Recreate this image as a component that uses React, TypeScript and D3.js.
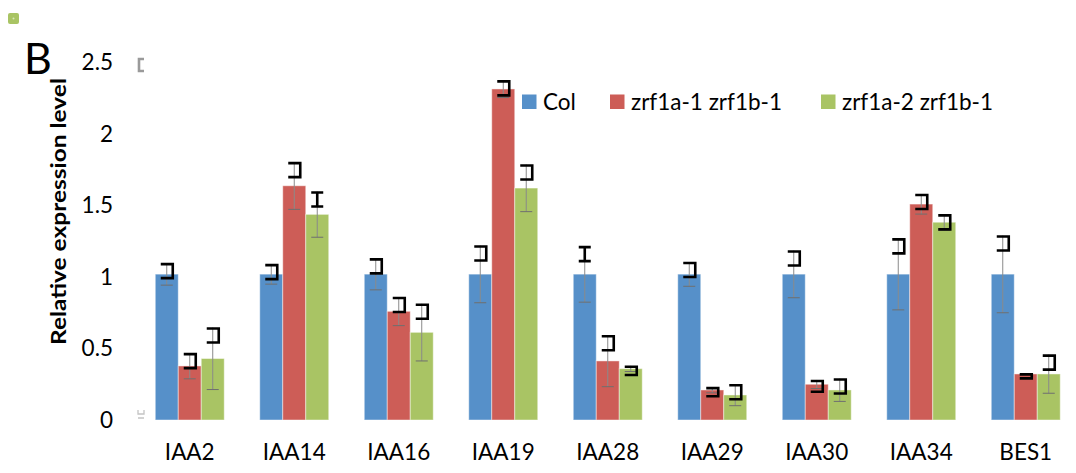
import React from "react";
import * as d3 from "d3";

const categories = ["IAA2", "IAA14", "IAA16", "IAA19", "IAA28", "IAA29", "IAA30", "IAA34", "BES1"];
const seriesNames = ["Col", "zrf1a-1 zrf1b-1", "zrf1a-2 zrf1b-1"];
const colValues = [1.02, 1.02, 1.02, 1.02, 1.02, 1.02, 1.02, 1.02, 1.02];
const colErrors = [0.077, 0.07, 0.11, 0.2, 0.196, 0.085, 0.165, 0.25, 0.27];
const mut1Values = [0.378, 1.638, 0.76, 2.315, 0.413, 0.21, 0.25, 1.51, 0.322];
const mut1Errors = [0.09, 0.165, 0.1, 0.06, 0.18, 0.02, 0.03, 0.07, 0.004];
const mut2Values = [0.43, 1.438, 0.613, 1.622, 0.359, 0.175, 0.21, 1.383, 0.322];
const mut2Errors = [0.217, 0.16, 0.2, 0.165, 0.02, 0.075, 0.08, 0.055, 0.135];
const yTicks = [0, 0.5, 1, 1.5, 2, 2.5];
const yTickLabels = ["0", "0.5", "1", "1.5", "2", "2.5"];
// caps drawn as "I" instead of the bracket shape: [series, category]
const iBeamCaps = ["2-1", "0-4"];

const colors = ["#5690C9", "#CD5D57", "#A9C464"];
const FONT = "Lato, 'Open Sans', sans-serif";

export default function App() {
  const W = 1076, H = 473;
  const x = d3.scaleBand<string>().domain(categories).range([137.5, 1078]).paddingInner(0.34).paddingOuter(0.17);
  const xs = d3.scaleBand<number>().domain([0, 1, 2]).range([0, x.bandwidth()]);
  const y = d3.scaleLinear().domain([0, 2.5]).range([420, 62.5]);

  const values = [colValues, mut1Values, mut2Values];
  const errors = [colErrors, mut1Errors, mut2Errors];

  const bars: React.ReactNode[] = [];
  const whiskers: React.ReactNode[] = [];
  values.forEach((vals, s) => {
    vals.forEach((v, c) => {
      const bx = (x(categories[c]) as number) + (xs(s) as number);
      const bw = xs.bandwidth();
      const top = y(v);
      bars.push(
        <rect key={`b${s}-${c}`} x={bx} y={top} width={bw} height={y(0) - top}
          fill={colors[s]} stroke="rgba(255,255,255,0.45)" strokeWidth={1} />
      );
      const e = errors[s][c];
      const cx = bx + bw / 2;
      const up = y(v + e);
      const lo = y(v - e);
      const ePx = top - up;
      const bh = Math.min(14, 3 + 1.8 * ePx);
      const isI = iBeamCaps.includes(`${s}-${c}`);
      const bTop = up + 1;
      const bBot = bTop + bh;
      whiskers.push(
        <g key={`e${s}-${c}`}>
          <line x1={cx} x2={cx} y1={Math.min(up, bTop)} y2={lo} stroke="#8a8a8a" strokeWidth={1} />
          <line x1={cx - 6} x2={cx + 6} y1={lo} y2={lo} stroke="#6f6f6f" strokeWidth={1} />
          {isI ? (
            <path d={`M${cx - 6},${bTop}H${cx + 6}M${cx},${bTop}V${bBot}M${cx - 6},${bBot}H${cx + 6}`}
              fill="none" stroke="#000" strokeWidth={2.6} />
          ) : (
            <path d={`M${cx - 6},${bTop}H${cx + 6}V${bBot}H${cx - 6}`}
              fill="none" stroke="#000" strokeWidth={2.6} strokeLinejoin="miter" />
          )}
        </g>
      );
    });
  });

  const legendX = [522, 610, 821];

  return (
    <svg width={W} height={H} style={{ position: "absolute", left: 0, top: 0, background: "#fff" }}
      fontFamily={FONT}>
      <rect x={8} y={13} width={11} height={11} rx={2} fill="#A9C464" />
      <circle cx={13.5} cy={18.5} r={1} fill="#d8e6b8" />
      <text x={24} y={73.5} fontSize={43} fill="#000">B</text>

      {/* small grey marks near the axis */}
      <path d="M144,59H139V71H144" fill="none" stroke="#9a9a9a" strokeWidth={2.6} />
      <path d="M138,410V414H144V410M138,418H144" fill="none" stroke="#c4c4c4" strokeWidth={1.3} />

      {yTicks.map((t, i) => (
        <text key={t} x={113} y={y(t)} dy="0.35em" textAnchor="end" fontSize={22.5} fill="#000">
          {yTickLabels[i]}
        </text>
      ))}
      <text transform={`translate(59,211.5) rotate(-90)`} textAnchor="middle" dy="0.35em"
        fontSize={21} fontWeight="bold" fill="#000" textLength={267} lengthAdjust="spacingAndGlyphs">
        Relative expression level
      </text>

      {bars}
      {whiskers}

      {categories.map((c) => (
        <text key={c} x={(x(c) as number) + x.bandwidth() / 2} y={452} dy="0.35em"
          textAnchor="middle" fontSize={22.5} fill="#000">{c}</text>
      ))}

      {seriesNames.map((n, i) => (
        <g key={n}>
          <rect x={legendX[i]} y={94.5} width={14.5} height={14.5} fill={colors[i]} />
          <text x={legendX[i] + 21} y={102} dy="0.35em" fontSize={22.5} fill="#000">{n}</text>
        </g>
      ))}
    </svg>
  );
}
